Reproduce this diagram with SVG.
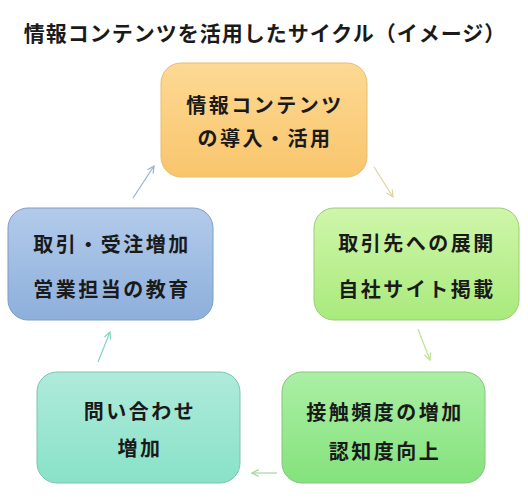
<svg xmlns="http://www.w3.org/2000/svg" width="528" height="504" viewBox="0 0 528 504">
<style>
.t{font-family:"Noto Sans CJK JP","Noto Sans CJK SC",sans-serif;font-weight:bold;fill:#1a1a1a;text-anchor:middle;dominant-baseline:central}
.n{font-size:20px;letter-spacing:2.5px}
.c{fill:none;stroke-width:1.2}
</style>
<defs>
<linearGradient id="gO" x1="0" y1="0" x2="0" y2="1"><stop offset="0" stop-color="#fdd994"/><stop offset="1" stop-color="#f9c56c"/></linearGradient>
<linearGradient id="gB" x1="0" y1="0" x2="0" y2="1"><stop offset="0" stop-color="#b3cbeb"/><stop offset="1" stop-color="#8dafdb"/></linearGradient>
<linearGradient id="gG" x1="0" y1="0" x2="0" y2="1"><stop offset="0" stop-color="#cff6aa"/><stop offset="1" stop-color="#a9ea7c"/></linearGradient>
<linearGradient id="gT" x1="0" y1="0" x2="0" y2="1"><stop offset="0" stop-color="#afeadb"/><stop offset="1" stop-color="#88e2c8"/></linearGradient>
<linearGradient id="gL" x1="0" y1="0" x2="0" y2="1"><stop offset="0" stop-color="#abefa5"/><stop offset="1" stop-color="#84e27c"/></linearGradient>
<marker id="aB" viewBox="0 0 10 10" refX="9" refY="5" markerWidth="7" markerHeight="7" orient="auto"><path d="M1,1 L9,5 L1,9" fill="none" stroke="#9ab0c8" stroke-width="1.4"/></marker>
<marker id="aY" viewBox="0 0 10 10" refX="9" refY="5" markerWidth="7" markerHeight="7" orient="auto"><path d="M1,1 L9,5 L1,9" fill="none" stroke="#e0d49a" stroke-width="1.4"/></marker>
<marker id="aG" viewBox="0 0 10 10" refX="9" refY="5" markerWidth="7" markerHeight="7" orient="auto"><path d="M1,1 L9,5 L1,9" fill="none" stroke="#bce28e" stroke-width="1.4"/></marker>
<marker id="aL" viewBox="0 0 10 10" refX="9" refY="5" markerWidth="7" markerHeight="7" orient="auto"><path d="M1,1 L9,5 L1,9" fill="none" stroke="#a6d8a0" stroke-width="1.4"/></marker>
<marker id="aT" viewBox="0 0 10 10" refX="9" refY="5" markerWidth="7" markerHeight="7" orient="auto"><path d="M1,1 L9,5 L1,9" fill="none" stroke="#80d6c0" stroke-width="1.4"/></marker>
</defs>
<rect width="528" height="504" fill="#ffffff"/>
<text class="t" x="265" y="32" font-size="21" letter-spacing="1">情報コンテンツを活用したサイクル（イメージ）</text>
<g id="connectors">
<line class="c" x1="374" y1="167" x2="393" y2="197" stroke="#e0d49a" marker-end="url(#aY)"/>
<line class="c" x1="418" y1="329" x2="430" y2="360" stroke="#bce28e" marker-end="url(#aG)"/>
<line class="c" x1="277" y1="473" x2="252" y2="473" stroke="#a6d8a0" marker-end="url(#aL)"/>
<line class="c" x1="98" y1="362" x2="110" y2="332" stroke="#80d6c0" marker-end="url(#aT)"/>
<line class="c" x1="133" y1="198" x2="154" y2="166" stroke="#9ab0c8" marker-end="url(#aB)"/>
</g>
<g id="node-top">
<rect x="161" y="63" width="206" height="114" rx="20" fill="url(#gO)" stroke="#e6bd74" stroke-width="1"/>
<text class="t n" x="265" y="104">情報コンテンツ</text>
<text class="t n" x="265" y="137">の導入・活用</text>
</g>
<g id="node-right">
<rect x="314" y="208" width="205" height="112" rx="20" fill="url(#gG)" stroke="#9ccc78" stroke-width="1"/>
<text class="t n" x="417" y="242">取引先への展開</text>
<text class="t n" x="417" y="288">自社サイト掲載</text>
</g>
<g id="node-bottom-right">
<rect x="282" y="372" width="203" height="111" rx="20" fill="url(#gL)" stroke="#86c480" stroke-width="1"/>
<text class="t n" x="385" y="411">接触頻度の増加</text>
<text class="t n" x="385" y="450">認知度向上</text>
</g>
<g id="node-bottom-left">
<rect x="37" y="372" width="203" height="111" rx="20" fill="url(#gT)" stroke="#7cc4b0" stroke-width="1"/>
<text class="t n" x="140" y="410">問い合わせ</text>
<text class="t n" x="140" y="447">増加</text>
</g>
<g id="node-left">
<rect x="8" y="208" width="205" height="112" rx="20" fill="url(#gB)" stroke="#7d9dc6" stroke-width="1"/>
<text class="t n" x="112" y="243">取引・受注増加</text>
<text class="t n" x="112" y="288">営業担当の教育</text>
</g>
</svg>
